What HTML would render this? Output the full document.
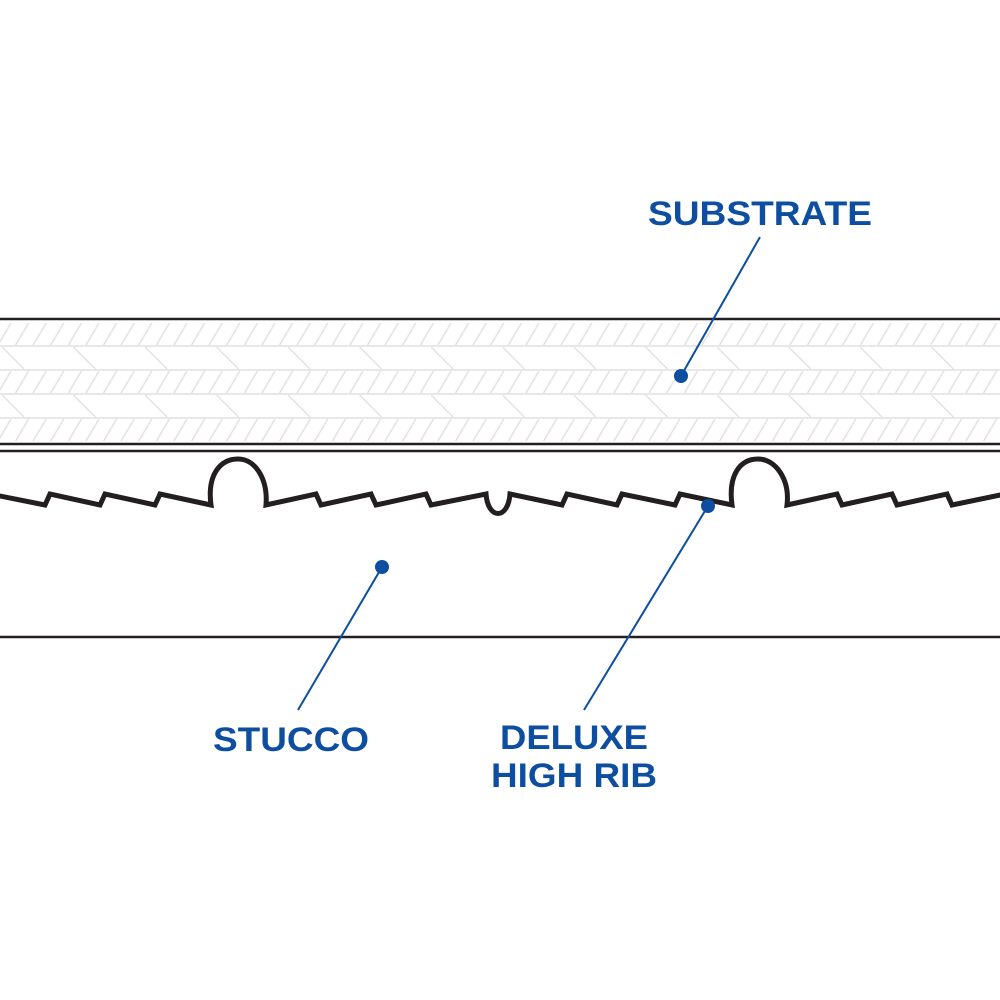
<!DOCTYPE html>
<html><head><meta charset="utf-8"><style>html,body{margin:0;padding:0;background:#fff}svg{display:block}</style></head>
<body>
<svg width="1000" height="1000" viewBox="0 0 1000 1000" xmlns="http://www.w3.org/2000/svg">
<defs>
<pattern id="h" x="0" y="322" width="17.6" height="24" patternUnits="userSpaceOnUse">
<line x1="-2" y1="23" x2="11" y2="1" stroke="#e2e2e2" stroke-width="1.5"/>
<line x1="15.6" y1="23" x2="28.6" y2="1" stroke="#e2e2e2" stroke-width="1.5"/>
</pattern>
<pattern id="c" x="2" y="346" width="71.5" height="24" patternUnits="userSpaceOnUse">
<line x1="0" y1="1" x2="22" y2="23" stroke="#e2e2e2" stroke-width="1.5"/>
</pattern>
</defs>
<rect width="1000" height="1000" fill="#fff"/>
<rect x="0" y="321" width="1000" height="24" fill="url(#h)"/>
<rect x="0" y="346" width="1000" height="24" fill="url(#c)"/>
<rect x="0" y="370" width="1000" height="24" fill="url(#h)"/>
<rect x="0" y="394" width="1000" height="24" fill="url(#c)"/>
<rect x="0" y="418" width="1000" height="24" fill="url(#h)"/>
<g stroke="#e0e0e0" stroke-width="1.6">
<line x1="0" y1="346" x2="1000" y2="346"/>
<line x1="0" y1="370" x2="1000" y2="370"/>
<line x1="0" y1="394" x2="1000" y2="394"/>
<line x1="0" y1="418" x2="1000" y2="418"/>
</g>
<g stroke="#231f20" stroke-width="2.5">
<line x1="0" y1="319" x2="1000" y2="319"/>
<line x1="0" y1="444" x2="1000" y2="444"/>
<line x1="0" y1="451" x2="1000" y2="451"/>
<line x1="0" y1="637" x2="1000" y2="637"/>
</g>
<path d="M-5,495 L45,505 L50,494 L100,505 L105,494 L155,505 L160,494 L211,505 C207,475 220,459 238,459 C256,459 268,480 266,505 L316,494 L321,505 L371,494 L376,505 L426,494 L431,505 L486,494 C488,520 508,520 510,494 L562,505 L567,494 L617,505 L622,494 L675,505 L680,494 L732,505 C728,475 740,459 758,459 C776,459 790,480 787,505 L837,494 L842,505 L892,494 L897,505 L947,494 L952,505 L1005,494" fill="none" stroke="#231f20" stroke-width="5" stroke-linejoin="miter"/>
<g stroke="#0d4ea0" stroke-width="2">
<line x1="760" y1="237" x2="681" y2="376"/>
<line x1="382" y1="567" x2="298" y2="710"/>
<line x1="708" y1="506" x2="584" y2="710"/>
</g>
<g fill="#0d4ea0">
<circle cx="681" cy="376" r="7"/>
<circle cx="382" cy="567" r="7"/>
<circle cx="708" cy="506" r="7"/>
</g>
<g fill="#0d4ea0" font-family="Liberation Sans, Arial, sans-serif" font-weight="bold" font-size="34">
<text x="648" y="225" textLength="224" lengthAdjust="spacingAndGlyphs">SUBSTRATE</text>
<text x="213" y="751" textLength="156" lengthAdjust="spacingAndGlyphs">STUCCO</text>
<text x="500" y="749" textLength="148" lengthAdjust="spacingAndGlyphs">DELUXE</text>
<text x="491" y="787" textLength="166" lengthAdjust="spacingAndGlyphs">HIGH RIB</text>
</g>
</svg>
</body></html>
